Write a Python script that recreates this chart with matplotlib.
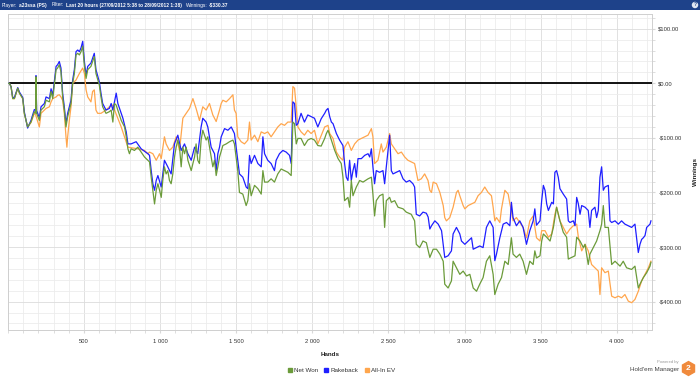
import matplotlib
matplotlib.use('Agg')
import matplotlib.pyplot as plt
from matplotlib.patches import Rectangle
from matplotlib.lines import Line2D
from matplotlib.ticker import MultipleLocator, FuncFormatter

plt.rcParams['font.family'] = ['Liberation Sans', 'DejaVu Sans']

# Net Won (green)
net_hands = [5, 9, 20, 31, 42, 64, 75, 97, 107, 129, 151, 173, 182, 184, 188, 206, 217, 239, 250, 272,
             283, 294, 316, 326, 337, 348, 359, 370, 381, 392, 403, 414, 425, 436, 447, 458, 469, 480, 491, 502,
             513, 524, 545, 567, 578, 600, 611, 622, 644, 666, 678, 689, 700, 711, 744, 766, 777, 788, 798, 809,
             831, 853, 875, 897, 919, 930, 941, 952, 963, 974, 985, 996, 1007, 1017, 1028, 1039, 1050, 1061, 1072, 1083,
             1094, 1105, 1116, 1127, 1138, 1149, 1160, 1171, 1182, 1204, 1215, 1226, 1236, 1247, 1258, 1269, 1280, 1291, 1302, 1313,
             1335, 1346, 1357, 1368, 1379, 1390, 1412, 1434, 1456, 1478, 1488, 1499, 1510, 1521, 1543, 1565, 1576, 1587, 1598, 1620,
             1642, 1664, 1675, 1686, 1707, 1729, 1751, 1773, 1795, 1817, 1839, 1861, 1872, 1883, 1894, 1905, 1926, 1948, 1970, 1992,
             2014, 2036, 2058, 2081, 2092, 2103, 2125, 2147, 2169, 2190, 2201, 2212, 2234, 2245, 2256, 2267, 2289, 2311, 2333, 2366,
             2388, 2398, 2409, 2420, 2442, 2464, 2475, 2486, 2508, 2519, 2541, 2563, 2596, 2617, 2650, 2672, 2683, 2705, 2727, 2749,
             2772, 2794, 2816, 2838, 2860, 2870, 2892, 2914, 2925, 2947, 2969, 2991, 3013, 3035, 3057, 3079, 3100, 3122, 3144, 3166,
             3188, 3199, 3221, 3243, 3265, 3287, 3308, 3319, 3341, 3363, 3385, 3407, 3429, 3451, 3462, 3473, 3496, 3507, 3518, 3540,
             3562, 3584, 3605, 3627, 3649, 3671, 3682, 3704, 3726, 3737, 3759, 3781, 3792, 3813, 3824, 3846, 3868, 3890, 3901, 3912,
             3923, 3945, 3967, 3989, 4022, 4043, 4065, 4098, 4120, 4142, 4153, 4175, 4197, 4219, 4225]
net_won = [0, 0, -6, -28, -28, -9, -18, -28, -55, -80, -71, -52, -55, 12, -55, -68, -49, -43, -31, -34,
           -15, -28, 25, 28, 34, 21, -25, -49, -80, -61, -49, -37, 0, 18, 52, 55, 52, 58, 68, 31,
           9, 25, 31, 49, 18, -3, -25, -43, -55, -52, -49, -71, -37, -40, -68, -80, -98, -120, -129, -120,
           -123, -117, -126, -135, -141, -144, -172, -196, -221, -196, -184, -196, -209, -178, -153, -166, -160, -178, -184, -166,
           -135, -117, -104, -117, -153, -117, -129, -117, -141, -160, -147, -135, -111, -141, -147, -104, -86, -95, -104, -98,
           -135, -153, -141, -169, -153, -135, -114, -111, -107, -104, -111, -135, -160, -200, -203, -224, -215, -184, -206, -187,
           -193, -203, -160, -181, -181, -175, -181, -166, -157, -160, -163, -169, -71, -74, -111, -101, -101, -114, -104, -101,
           -104, -114, -115, -101, -92, -86, -104, -123, -138, -147, -172, -215, -209, -227, -178, -206, -190, -178, -181, -175,
           -172, -203, -243, -215, -206, -203, -264, -215, -209, -218, -215, -227, -230, -236, -240, -252, -295, -301, -289, -292,
           -319, -304, -304, -313, -326, -368, -375, -362, -326, -338, -350, -344, -353, -350, -375, -381, -368, -356, -326, -316,
           -350, -387, -368, -356, -326, -332, -283, -313, -319, -313, -326, -350, -326, -332, -307, -320, -316, -289, -276, -282,
           -289, -264, -227, -252, -273, -282, -322, -319, -316, -282, -289, -301, -295, -332, -313, -301, -289, -270, -258, -224,
           -264, -264, -332, -326, -335, -326, -338, -341, -335, -375, -368, -356, -347, -335, -328]

# Rakeback (blue)
rb_hands = [5, 9, 20, 31, 42, 64, 75, 97, 107, 129, 151, 173, 182, 184, 188, 206, 217, 239, 250, 272,
            283, 294, 316, 326, 337, 348, 359, 370, 381, 392, 403, 414, 425, 436, 447, 458, 469, 480, 491, 502,
            513, 524, 545, 567, 578, 600, 611, 622, 644, 666, 678, 689, 711, 722, 755, 777, 788, 809, 842, 875,
            919, 930, 941, 952, 963, 974, 985, 1007, 1028, 1050, 1072, 1094, 1116, 1138, 1160, 1182, 1204, 1226, 1247, 1269,
            1280, 1302, 1313, 1335, 1357, 1368, 1379, 1390, 1401, 1423, 1445, 1467, 1488, 1499, 1510, 1521, 1543, 1565, 1576, 1587,
            1598, 1620, 1642, 1664, 1675, 1686, 1707, 1729, 1751, 1762, 1784, 1806, 1828, 1850, 1861, 1872, 1883, 1894, 1905, 1926,
            1948, 1970, 1992, 2014, 2036, 2058, 2081, 2092, 2103, 2114, 2125, 2136, 2158, 2179, 2201, 2212, 2223, 2234, 2245, 2256,
            2267, 2278, 2289, 2300, 2322, 2344, 2366, 2377, 2388, 2398, 2409, 2420, 2442, 2464, 2475, 2486, 2508, 2519, 2530, 2552,
            2574, 2596, 2617, 2639, 2661, 2672, 2683, 2705, 2727, 2749, 2761, 2772, 2783, 2805, 2827, 2849, 2860, 2870, 2892, 2914,
            2925, 2947, 2969, 2980, 3002, 3024, 3046, 3057, 3079, 3100, 3122, 3144, 3166, 3188, 3199, 3210, 3232, 3254, 3276, 3298,
            3308, 3319, 3341, 3363, 3385, 3407, 3429, 3451, 3462, 3473, 3496, 3507, 3518, 3529, 3540, 3551, 3573, 3584, 3594, 3605,
            3616, 3627, 3649, 3671, 3682, 3693, 3715, 3726, 3737, 3748, 3759, 3770, 3792, 3813, 3824, 3835, 3857, 3868, 3879, 3890,
            3901, 3912, 3923, 3945, 3956, 3967, 3989, 4011, 4032, 4054, 4076, 4098, 4120, 4142, 4153, 4164, 4175, 4186, 4197, 4219,
            4225]
rakeback = [0, 0, -6, -26, -26, -8, -16, -26, -52, -82, -68, -48, -50, 14, -50, -63, -43, -37, -25, -28,
            -10, -22, 31, 34, 40, 28, -18, -43, -74, -55, -43, -31, 6, 25, 58, 61, 58, 65, 77, 40,
            15, 31, 37, 55, 25, 3, -18, -37, -49, -46, -37, -49, -18, -37, -64, -89, -111, -111, -107, -120,
            -129, -132, -160, -184, -196, -178, -169, -190, -141, -153, -166, -111, -95, -123, -111, -129, -141, -117, -129, -80,
            -64, -71, -80, -117, -129, -160, -129, -117, -98, -83, -86, -80, -92, -117, -141, -166, -172, -190, -193, -132,
            -147, -132, -147, -153, -98, -129, -141, -147, -160, -141, -129, -123, -126, -132, -147, -34, -37, -77, -74, -55,
            -71, -58, -61, -64, -80, -65, -55, -49, -46, -61, -71, -74, -92, -104, -114, -147, -172, -178, -141, -178,
            -160, -147, -172, -138, -138, -132, -129, -135, -120, -153, -184, -160, -163, -160, -184, -153, -95, -160, -166, -163,
            -160, -175, -181, -178, -184, -190, -240, -243, -236, -238, -245, -267, -261, -252, -258, -270, -295, -319, -316, -307,
            -276, -264, -276, -289, -295, -289, -283, -304, -301, -298, -301, -264, -252, -264, -325, -313, -283, -258, -255, -261,
            -218, -246, -261, -252, -264, -295, -270, -252, -230, -260, -252, -215, -187, -196, -221, -233, -218, -221, -163, -160,
            -172, -193, -203, -212, -252, -255, -252, -261, -209, -221, -240, -224, -227, -233, -264, -233, -227, -246, -233, -172,
            -153, -196, -190, -187, -252, -255, -252, -258, -252, -258, -261, -264, -258, -310, -295, -286, -283, -279, -264, -258,
            -252]

# All-In EV (orange)
ev_hands = [5, 9, 20, 31, 42, 64, 75, 97, 107, 129, 151, 173, 182, 206, 217, 239, 250, 272, 283, 294,
            316, 326, 337, 348, 359, 370, 381, 387, 392, 403, 414, 425, 447, 469, 491, 502, 513, 524, 545, 556,
            567, 578, 589, 611, 644, 666, 688, 744, 788, 853, 897, 919, 930, 952, 974, 996, 1007, 1028, 1039, 1061,
            1083, 1105, 1127, 1149, 1171, 1193, 1215, 1236, 1258, 1280, 1302, 1324, 1346, 1368, 1390, 1401, 1412, 1434, 1456, 1478,
            1488, 1499, 1510, 1532, 1554, 1576, 1587, 1598, 1620, 1642, 1664, 1686, 1707, 1729, 1751, 1773, 1795, 1817, 1839, 1861,
            1872, 1883, 1894, 1905, 1926, 1948, 1970, 1992, 2014, 2036, 2059, 2081, 2103, 2114, 2136, 2158, 2179, 2201, 2212, 2234,
            2256, 2278, 2300, 2322, 2344, 2366, 2388, 2398, 2409, 2431, 2453, 2464, 2486, 2508, 2519, 2541, 2563, 2585, 2607, 2628,
            2650, 2672, 2694, 2716, 2738, 2760, 2772, 2783, 2794, 2816, 2838, 2860, 2870, 2881, 2903, 2925, 2947, 2958, 2969, 2991,
            3002, 3024, 3046, 3068, 3089, 3111, 3133, 3155, 3177, 3188, 3199, 3210, 3232, 3243, 3265, 3287, 3298, 3308, 3319, 3341,
            3363, 3385, 3407, 3429, 3451, 3473, 3496, 3507, 3529, 3551, 3573, 3594, 3605, 3627, 3649, 3671, 3693, 3715, 3737, 3748,
            3770, 3792, 3813, 3835, 3857, 3879, 3890, 3901, 3923, 3945, 3967, 3989, 4011, 4032, 4054, 4076, 4098, 4120, 4142, 4164,
            4186, 4208, 4225]
allin_ev = [0, 0, -6, -28, -28, -9, -18, -28, -55, -80, -72, -55, -58, -80, -55, -49, -46, -43, -34, -28,
            -25, -22, -21, -25, -31, -55, -98, -117, -98, -68, -43, 0, 6, 18, 28, 18, -12, -25, -34, -15,
            -12, -49, -55, -55, -49, -43, -40, -80, -117, -120, -123, -129, -126, -129, -141, -129, -138, -98, -111, -123,
            -117, -98, -123, -64, -55, -46, -28, -46, -68, -43, -49, -37, -58, -70, -49, -37, -31, -34, -28, -21,
            -49, -55, -98, -107, -111, -104, -71, -104, -95, -107, -89, -92, -89, -98, -89, -80, -74, -77, -71, -71,
            -6, -9, -43, -80, -89, -95, -86, -92, -86, -111, -95, -80, -77, -92, -101, -126, -135, -141, -117, -107,
            -123, -111, -104, -101, -98, -95, -83, -98, -147, -141, -111, -126, -117, -92, -111, -120, -129, -126, -135, -141,
            -144, -147, -178, -175, -166, -178, -196, -200, -181, -184, -200, -224, -246, -252, -246, -227, -200, -196, -206, -224,
            -230, -224, -221, -218, -206, -200, -190, -200, -206, -227, -252, -246, -255, -230, -196, -203, -221, -233, -252, -246,
            -255, -264, -283, -252, -243, -283, -289, -270, -270, -282, -276, -240, -227, -252, -264, -276, -267, -261, -258, -282,
            -307, -295, -307, -332, -338, -344, -387, -338, -347, -344, -390, -393, -390, -393, -387, -399, -402, -396, -381, -362,
            -350, -338, -326]

x_ticks = [500, 1000, 1500, 2000, 2500, 3000, 3500, 4000]
y_ticks = [100, 0, -100, -200, -300, -400]

W, H = 700, 377
fig = plt.figure(figsize=(W / 100, H / 100), dpi=100)
fig.patch.set_facecolor('white')
renderer = fig.canvas.get_renderer()

# header bar
fig.patches.append(Rectangle((0, 1 - 10 / H), 1, 10 / H, transform=fig.transFigure,
                             facecolor='#1e428a', edgecolor='none', zorder=0))
hy = 1 - 5 / H
hdr = [('Player:', 'normal'), ('a23ssa (PS)', 'bold'), ('Filter:', 'normal'),
       ('Last 20 hours (27/09/2012 5:38 to 28/09/2012 1:38)', 'bold'),
       ('Winnings:', 'normal'), ('-$330.37', 'bold')]
px = 2
for i, (txt, wt) in enumerate(hdr):
    t = fig.text(px / W, hy, txt, color='white', fontsize=3.5, fontweight=wt, ha='left', va='center')
    px += t.get_window_extent(renderer).width + (2 if i % 2 == 0 else 4)
fig.text(695 / W, hy, '?', color='#1e428a', fontsize=3.5, fontweight='bold', ha='center', va='center',
         bbox=dict(boxstyle='circle,pad=0.15', facecolor='#dfe6f2', edgecolor='none'))

ax = fig.add_axes([8 / W, 1 - 330 / H, 644 / W, 316 / H])
ax.set_xlim(0, 4232)
ax.set_ylim(-452, 127)

ax.xaxis.set_major_locator(MultipleLocator(500))
ax.xaxis.set_minor_locator(MultipleLocator(100))
ax.yaxis.set_major_locator(MultipleLocator(100))
ax.yaxis.set_minor_locator(MultipleLocator(20))
ax.grid(which='major', color='#dcdcdc', lw=0.6)
ax.grid(which='minor', color='#ececec', lw=0.6)
ax.set_axisbelow(True)

ax.set_xticks(x_ticks)
ax.xaxis.set_major_formatter(FuncFormatter(lambda v, p: f'{int(v):,}'.replace(',', ' ')))
ax.set_yticks(y_ticks)
ax.yaxis.set_major_formatter(FuncFormatter(lambda v, p: ('-' if v < 0 else '') + f'${abs(v):,.2f}'))
ax.yaxis.tick_right()
ax.tick_params(axis='both', which='both', length=2.5, color='#d8d8d8', labelsize=4.2,
               labelcolor='#333333', pad=2)
ax.tick_params(axis='x', pad=4)
for s in ax.spines.values():
    s.set_color('#cfcfcf')
    s.set_linewidth(0.7)

ax.axhline(0, color='black', lw=1.3, zorder=2)

ax.plot(net_hands, net_won, color='#6b9b3a', lw=0.9, zorder=4, label='Net Won')
ax.plot(rb_hands, rakeback, color='#1f1fff', lw=0.9, zorder=3, label='Rakeback')
ax.plot(ev_hands, allin_ev, color='#ffa64d', lw=0.9, zorder=2.5, label='All-In EV')

ax.set_xlabel('Hands', fontsize=4.5, fontweight='bold', color='#222222', labelpad=6)
ax.yaxis.set_label_position('right')
ax.set_ylabel('Winnings', fontsize=4.5, fontweight='bold', color='#222222', labelpad=8)

leg = fig.legend(handles=[Line2D([], [], color='#6b9b3a', marker='s', ls='none', ms=2.5),
                          Line2D([], [], color='#1f1fff', marker='s', ls='none', ms=2.5),
                          Line2D([], [], color='#ffa64d', marker='s', ls='none', ms=2.5)],
                 labels=['Net Won', 'Rakeback', 'All-In EV'], loc='center', ncol=3,
                 bbox_to_anchor=(341 / W, 1 - 370 / H), frameon=False, fontsize=4.5,
                 handletextpad=0.2, columnspacing=1.0, handlelength=0.8, labelcolor='#333333')

# branding
fig.text(679 / W, 1 - 362 / H, 'Powered by', fontsize=3, color='#999999', ha='right', va='center')
fig.text(679 / W, 1 - 369 / H, "Hold'em Manager", fontsize=4.5, color='#444444', ha='right', va='center')
fig.add_artist(Line2D([688 / W], [1 - 368 / H], marker='h', ms=10, color='#f08a3c', ls='none',
                      transform=fig.transFigure))
fig.text(688 / W, 1 - 368 / H, '2', fontsize=6, fontweight='bold', color='white', ha='center', va='center')

fig.savefig('out.png', dpi=100)
